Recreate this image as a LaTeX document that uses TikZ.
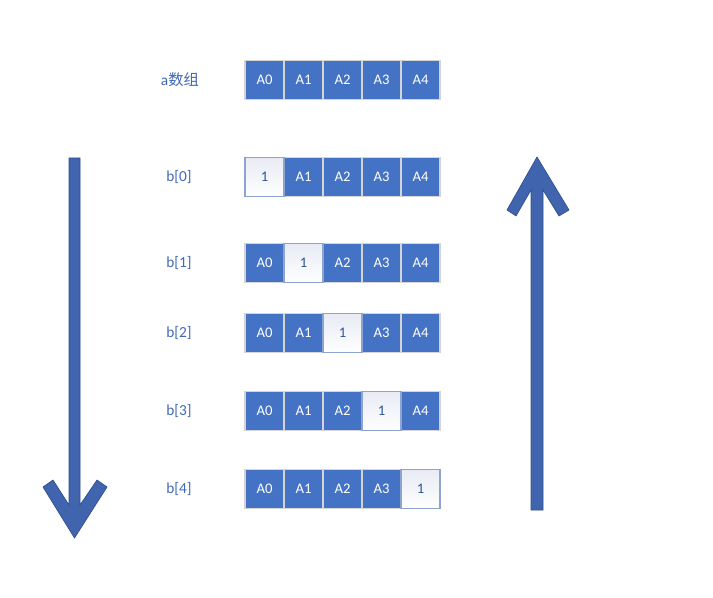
\documentclass[tikz,border=0pt]{standalone}
\usepackage{fontspec}
\setmainfont{Carlito}
\newfontfamily\cjk{Noto Sans CJK SC}
\definecolor{cellblue}{HTML}{4472C4}
\definecolor{cellline}{HTML}{D4D4D4}
\definecolor{arrowblue}{HTML}{4064AD}
\definecolor{arrowedge}{HTML}{2F4F8F}
\definecolor{labelblue}{HTML}{3F68B8}
\definecolor{oneedge}{HTML}{8DA3D0}
\definecolor{onetext}{HTML}{2F5597}
\definecolor{onetop}{HTML}{E8EBF4}
\begin{document}
\begin{tikzpicture}[x=0.75pt,y=-0.75pt,
  cellbox/.style={draw=cellline,line width=0.9pt,fill=cellblue,text=white,minimum width=39*0.75pt,minimum height=39*0.75pt,inner sep=0pt,font=\fontsize{11}{13}\selectfont},
  onebox/.style={draw=oneedge,line width=1pt,top color=onetop,bottom color=white,text=onetext,minimum width=39*0.75pt,minimum height=39*0.75pt,inner sep=0pt,font=\fontsize{11}{13}\selectfont},
  rowlabel/.style={text=labelblue,font=\fontsize{11.5}{13}\selectfont,inner sep=0pt},
  bigarrow/.style={fill=arrowblue,draw=arrowedge,line width=0.5pt,line join=miter}]
\useasboundingbox (0,0) rectangle (713,598);

% a row
\node[rowlabel] (la) at (180,80) {a{\cjk 数组}};
\foreach \i/\t in {0/A0,1/A1,2/A2,3/A3,4/A4}{
  \node[cellbox] (a\i) at (264.5+\i*39,80) {\t};
}
% b rows: blue cells
\foreach \r/\y in {0/177,1/263,2/333,3/411,4/489}{
  \node[rowlabel] (lb\r) at (179,\y) {b[\r]};
  \foreach \i in {0,...,4}{
    \ifnum\i=\r\else
      \node[cellbox] (b\r c\i) at (264.5+\i*39,\y) {A\i};
    \fi
  }
}
% highlighted cells on top
\foreach \r/\y in {0/177,1/263,2/333,3/411,4/489}{
  \node[onebox] (b\r c\r) at (264.5+\r*39,\y) {1};
}

% left down arrow
\draw[bigarrow] (69,158) -- (80,158) -- (80,505) -- (97,480) -- (107,487) -- (74.5,538) -- (43,487) -- (53,480) -- (69,505) -- cycle;
% right up arrow
\draw[bigarrow] (531,510) -- (543,510) -- (543,190) -- (559,216) -- (569,210) -- (537,157) -- (507,210) -- (516,216) -- (531,190) -- cycle;
\end{tikzpicture}
\end{document}
